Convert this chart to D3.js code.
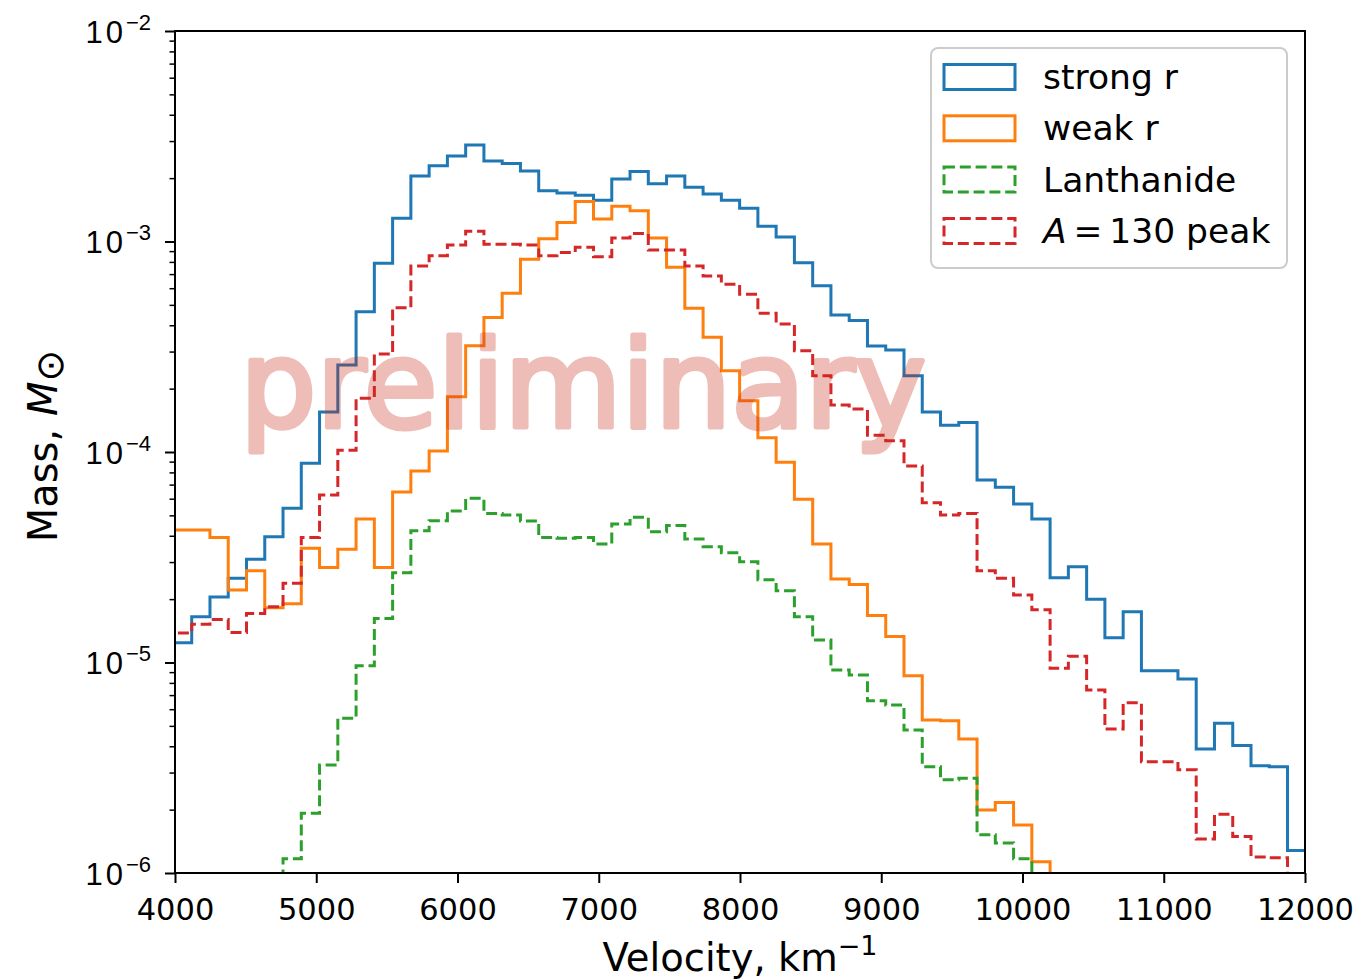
<!DOCTYPE html>
<html>
<head>
<meta charset="utf-8">
<script src="https://d3js.org/d3.v7.min.js"></script>
<style>
  body { margin: 0; background: #fff; }
  svg { display: block; font-family: "DejaVu Sans", sans-serif; }
</style>
</head>
<body>
<svg width="1365" height="980" id="chart"></svg>
<script>
// histogram binning (km/s)
var binStart = 3989, binWidth = 129.3, nBins = 62;

// bin masses (0 = below the plotted range)
var strongR = [1.24e-5, 1.65e-5, 2.05e-5, 2.51e-5, 3.09e-5, 3.96e-5, 5.40e-5, 8.84e-5, 1.55e-4, 2.59e-4,
  4.64e-4, 7.88e-4, 1.29e-3, 2.05e-3, 2.29e-3, 2.55e-3, 2.87e-3, 2.41e-3, 2.35e-3, 2.16e-3,
  1.74e-3, 1.70e-3, 1.66e-3, 1.57e-3, 1.98e-3, 2.15e-3, 1.88e-3, 2.05e-3, 1.81e-3, 1.68e-3,
  1.57e-3, 1.44e-3, 1.18e-3, 1.05e-3, 7.93e-4, 6.17e-4, 4.48e-4, 4.21e-4, 3.19e-4, 3.05e-4,
  2.30e-4, 1.55e-4, 1.34e-4, 1.38e-4, 7.36e-5, 6.80e-5, 5.66e-5, 4.81e-5, 2.53e-5, 2.85e-5,
  2.00e-5, 1.31e-5, 1.74e-5, 9.14e-6, 9.14e-6, 8.35e-6, 3.88e-6, 5.14e-6, 4.03e-6, 3.23e-6,
  3.20e-6, 1.28e-6];
var weakR = [4.26e-5, 4.26e-5, 3.93e-5, 2.21e-5, 2.73e-5, 1.82e-5, 1.90e-5, 3.49e-5, 2.83e-5, 3.45e-5,
  4.81e-5, 2.83e-5, 6.46e-5, 8.12e-5, 1.01e-4, 1.83e-4, 3.20e-4, 4.36e-4, 5.68e-4, 8.23e-4,
  1.03e-3, 1.23e-3, 1.55e-3, 1.28e-3, 1.47e-3, 1.40e-3, 1.04e-3, 7.54e-4, 4.82e-4, 3.51e-4,
  2.43e-4, 1.75e-4, 1.17e-4, 8.93e-5, 5.96e-5, 3.66e-5, 2.49e-5, 2.35e-5, 1.67e-5, 1.33e-5,
  8.66e-6, 5.33e-6, 5.29e-6, 4.33e-6, 1.99e-6, 2.16e-6, 1.69e-6, 1.13e-6, 0, 0,
  0, 0, 0, 0, 0, 0, 0, 0, 0, 0,
  0, 0];
var lanthanide = [0, 0, 0, 0, 0, 0, 1.17e-6, 1.92e-6, 3.26e-6, 5.43e-6,
  9.66e-6, 1.62e-5, 2.67e-5, 4.23e-5, 4.72e-5, 5.25e-5, 6.03e-5, 5.11e-5, 5.02e-5, 4.70e-5,
  3.93e-5, 3.89e-5, 3.92e-5, 3.66e-5, 4.55e-5, 4.90e-5, 4.18e-5, 4.47e-5, 3.86e-5, 3.55e-5,
  3.32e-5, 3.01e-5, 2.47e-5, 2.19e-5, 1.65e-5, 1.28e-5, 9.21e-6, 8.72e-6, 6.59e-6, 6.28e-6,
  4.78e-6, 3.20e-6, 2.77e-6, 2.82e-6, 1.52e-6, 1.39e-6, 1.17e-6, 0, 0, 0,
  0, 0, 0, 0, 0, 0, 0, 0, 0, 0,
  0, 0];
var peak130 = [1.38e-5, 1.52e-5, 1.60e-5, 1.39e-5, 1.71e-5, 1.84e-5, 2.38e-5, 3.93e-5, 6.25e-5, 1.02e-4,
  1.80e-4, 2.92e-4, 4.85e-4, 7.65e-4, 8.56e-4, 9.63e-4, 1.12e-3, 9.70e-4, 9.70e-4, 9.63e-4,
  8.56e-4, 8.87e-4, 9.38e-4, 8.47e-4, 1.04e-3, 1.09e-3, 9.11e-4, 9.11e-4, 7.65e-4, 6.86e-4,
  6.26e-4, 5.61e-4, 4.56e-4, 4.06e-4, 3.03e-4, 2.30e-4, 1.67e-4, 1.60e-4, 1.20e-4, 1.13e-4,
  8.58e-5, 5.74e-5, 5.02e-5, 5.11e-5, 2.73e-5, 2.51e-5, 2.09e-5, 1.78e-5, 9.38e-6, 1.07e-5,
  7.40e-6, 4.83e-6, 6.44e-6, 3.38e-6, 3.38e-6, 3.09e-6, 1.45e-6, 1.90e-6, 1.49e-6, 1.19e-6,
  1.18e-6, 0];

var seriesNames = ["strong r", "weak r", "Lanthanide", "A = 130 peak"];
var seriesColors = ["#1f77b4", "#ff7f0e", "#2ca02c", "#d62728"];
var seriesDashed = [false, false, true, true];
var xTicks = [4000, 5000, 6000, 7000, 8000, 9000, 10000, 11000, 12000];
var yTickExp = [-6, -5, -4, -3, -2];

var svg = d3.select("#chart"),
    margin = {left: 175, top: 31, right: 60, bottom: 107},
    width = +svg.attr("width") - margin.left - margin.right,
    height = +svg.attr("height") - margin.top - margin.bottom;

var x = d3.scaleLinear().domain([4000, 12000]).range([0, width]);
var y = d3.scaleLog().domain([1e-6, 1e-2]).range([height, 0]);

var g = svg.append("g").attr("transform", "translate(" + margin.left + "," + margin.top + ")");

g.append("clipPath").attr("id", "clip")
  .append("rect").attr("width", width).attr("height", height);

var edges = d3.range(nBins + 1).map(function(i) { return binStart + i * binWidth; });

function yv(v) { return v > 0 ? y(v) : height + 40; }

function stepPoints(vals) {
  var pts = [[x(edges[0]), height + 40]];
  vals.forEach(function(v, i) {
    pts.push([x(edges[i]), yv(v)]);
    pts.push([x(edges[i + 1]), yv(v)]);
  });
  pts.push([x(edges[nBins]), height + 40]);
  return pts;
}

var line = d3.line();
var allSeries = [strongR, weakR, lanthanide, peak130];

var plot = g.append("g").attr("clip-path", "url(#clip)");
allSeries.forEach(function(vals, i) {
  plot.append("path")
    .attr("d", line(stepPoints(vals)))
    .attr("fill", "none")
    .attr("stroke", seriesColors[i])
    .attr("stroke-width", 3)
    .attr("stroke-linejoin", "miter")
    .attr("stroke-dasharray", seriesDashed[i] ? "11,4.8" : null);
});

// watermark (semi-transparent, drawn over the lines)
var wg = g.append("g").attr("opacity", 0.3);
var wm = wg.append("text")
  .attr("x", 408)
  .attr("y", 396)
  .attr("text-anchor", "middle")
  .attr("font-size", "120px")
  .attr("fill", "rgb(200,40,20)")
  .attr("stroke", "rgb(200,40,20)")
  .attr("stroke-width", 5)
  .attr("stroke-linejoin", "round")
  .text("preliminary");
var wb = wm.node().getBBox();
wm.attr("font-size", (120 * 686 / wb.width).toFixed(1) + "px");

// axes
var xAxis = g.append("g")
  .attr("transform", "translate(0," + height + ")")
  .call(d3.axisBottom(x).tickValues(xTicks).tickSize(10).tickSizeOuter(0).tickPadding(8).tickFormat(d3.format("d")));
xAxis.select(".domain").remove();
xAxis.selectAll("line").attr("stroke", "#000").attr("stroke-width", 2);
xAxis.selectAll("text").attr("font-size", "30.5px").attr("fill", "#000")
  .attr("font-family", "DejaVu Sans").attr("dy", "0.95em");

var minors = [];
yTickExp.slice(0, -1).forEach(function(e) {
  d3.range(2, 10).forEach(function(m) { minors.push(m * Math.pow(10, e)); });
});
var yMinor = g.append("g")
  .call(d3.axisLeft(y).tickValues(minors).tickSize(5.5).tickSizeOuter(0).tickFormat(""));
yMinor.select(".domain").remove();
yMinor.selectAll("line").attr("stroke", "#000").attr("stroke-width", 1.5);

var yAxis = g.append("g")
  .call(d3.axisLeft(y).tickValues(yTickExp.map(function(e) { return Math.pow(10, e); }))
    .tickSize(10).tickSizeOuter(0).tickPadding(8).tickFormat(""));
yAxis.select(".domain").remove();
yAxis.selectAll("line").attr("stroke", "#000").attr("stroke-width", 2);
yAxis.selectAll(".tick").each(function(d) {
  var t = d3.select(this).append("text")
    .attr("x", -24).attr("y", 11)
    .attr("text-anchor", "end")
    .attr("fill", "#000")
    .attr("font-size", "31px");
  t.append("tspan").attr("letter-spacing", "3px").text("10");
  t.append("tspan").attr("dy", -13).attr("font-size", "22px")
    .text("\u2212" + Math.abs(Math.round(Math.log10(d))));
});

// spines
g.append("rect")
  .attr("width", width).attr("height", height)
  .attr("fill", "none").attr("stroke", "#000").attr("stroke-width", 2);

// axis labels
var xl = svg.append("text")
  .attr("x", margin.left + width / 2)
  .attr("y", 971)
  .attr("text-anchor", "middle")
  .attr("font-size", "38.5px");
xl.append("tspan").text("Velocity, km");
xl.append("tspan").attr("dy", -16).attr("font-size", "27px").text("\u22121");

var yl = svg.append("text")
  .attr("transform", "translate(57," + (margin.top + height / 2 - 6) + ") rotate(-90)")
  .attr("text-anchor", "middle")
  .attr("font-size", "40px");
yl.append("tspan").text("Mass, ");
yl.append("tspan").attr("font-style", "italic").text("M");
yl.append("tspan").attr("dy", 6).attr("font-size", "38px").text("\u2299");

// legend
var lg = svg.append("g").attr("transform", "translate(931,48)");
lg.append("rect")
  .attr("width", 356).attr("height", 220).attr("rx", 7)
  .attr("fill", "#fff").attr("fill-opacity", 0.8)
  .attr("stroke", "#cccccc").attr("stroke-width", 2);
seriesNames.forEach(function(name, i) {
  var row = lg.append("g").attr("transform", "translate(0," + (29 + i * 51.3) + ")");
  row.append("rect")
    .attr("x", 13).attr("y", -12.5).attr("width", 71).attr("height", 25)
    .attr("fill", "none")
    .attr("stroke", seriesColors[i]).attr("stroke-width", 3)
    .attr("stroke-dasharray", seriesDashed[i] ? "11,4.8" : null);
  var t = row.append("text").attr("x", 112).attr("y", 12).attr("font-size", "34.5px");
  if (name.indexOf("A = ") === 0) {
    t.append("tspan").attr("font-style", "italic").text("A");
    t.append("tspan").text("\u2009=\u2009130 peak");
  } else {
    t.text(name);
  }
});
</script>
</body>
</html>
